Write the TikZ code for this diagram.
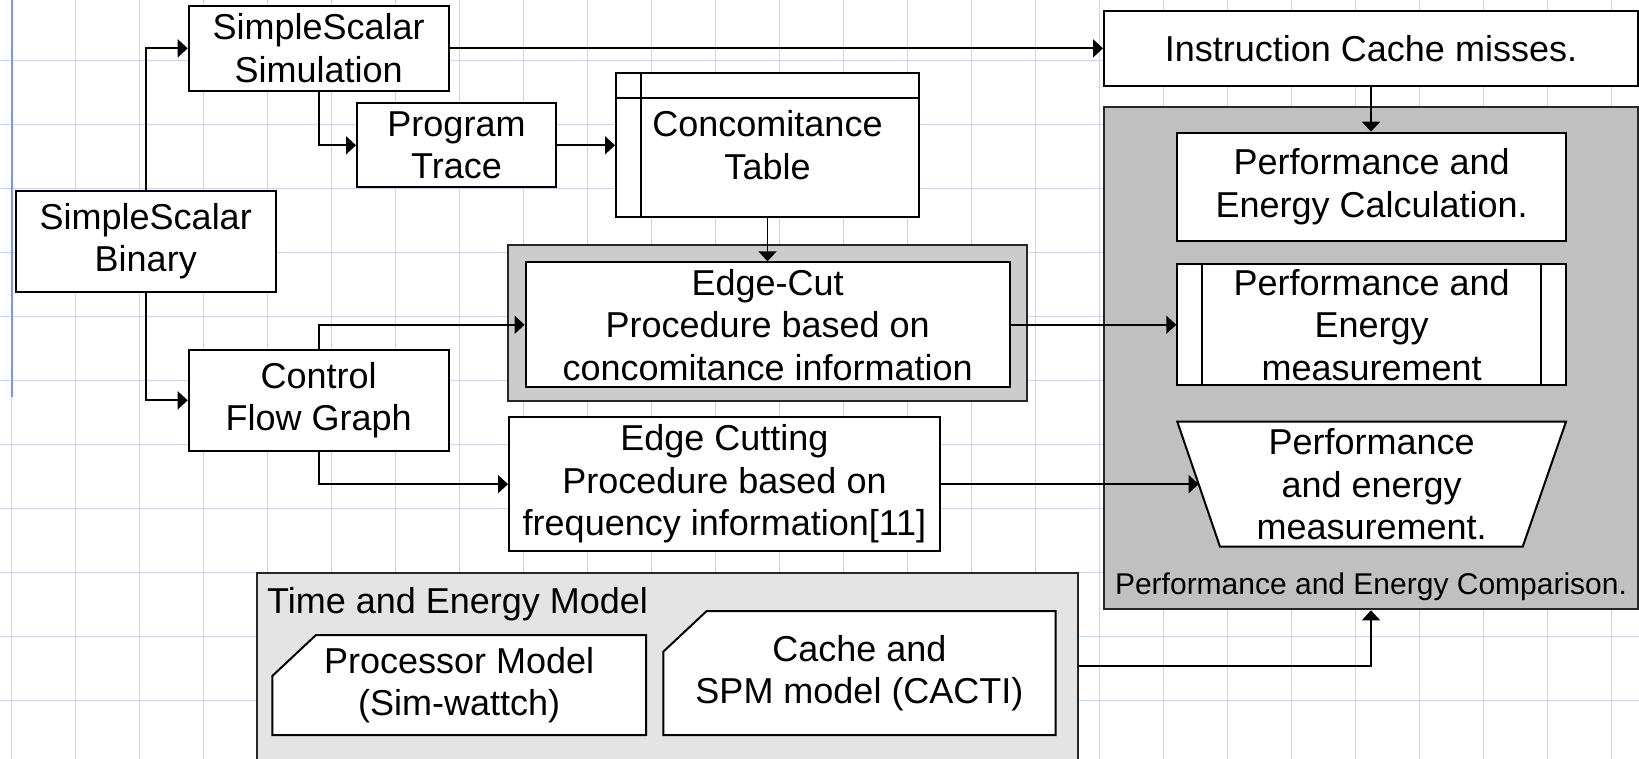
\documentclass[tikz,border=0pt]{standalone}
\usepackage{fontspec}
\setmainfont{Liberation Sans}
\usetikzlibrary{arrows.meta,calc}
\definecolor{gridc}{RGB}{200,211,250}
\definecolor{marginc}{RGB}{120,150,240}
\definecolor{ecgray}{RGB}{204,204,204}
\definecolor{cmpgray}{RGB}{192,192,192}
\definecolor{timegray}{RGB}{228,228,228}
\begin{document}
\begin{tikzpicture}[x=1pt,y=-1pt,
  box/.style={draw=black, line width=2pt, fill=white, inner sep=0pt, align=center, font=\fontsize{36}{42.5}\selectfont},
  txt/.style={inner sep=0pt, align=center, font=\fontsize{36}{42.5}\selectfont},
  frame/.style={draw=black!85, line width=2pt, inner sep=0pt},
  shapeline/.style={draw=black, line width=2pt, fill=white},
  arr/.style={line width=1.8pt, -{Triangle[length=10pt,width=18pt]}},
  gridline/.style={draw=gridc, line width=1.5pt}]
\useasboundingbox (0,0) rectangle (1639,759);
\fill[white] (0,0) rectangle (1639,759);
% grid
\foreach \i in {0,...,25} \draw[gridline] ({11.5+64*\i},0) -- ({11.5+64*\i},759);
\foreach \j in {0,...,10} \draw[gridline] (0,{60.5+64*\j}) -- (1639,{60.5+64*\j});
\draw[marginc, line width=2pt] (11.5,0) -- (11.5,397);

% containers
\node[frame, fill=cmpgray, minimum width=534pt, minimum height=502pt] (cmpbox) at (1371,358.3) {};
\node[inner sep=0pt, anchor=base, font=\fontsize{30}{36}\selectfont] (cmplabel) at (1371,594) {Performance and Energy Comparison.};
\node[frame, fill=ecgray, minimum width=518.6pt, minimum height=155.7pt] (ecouter) at (767.7,322.85) {};
\node[frame, fill=timegray, minimum width=821pt, minimum height=217.3pt] (timebox) at (667.8,681.35) {};
\node[inner sep=0pt, anchor=base west, font=\fontsize{36}{42.5}\selectfont] (timelabel) at (267,613) {Time and Energy Model};

% boxes
\node[box, minimum width=259.8pt, minimum height=84.7pt] (sim) at (318.6,48.35) {SimpleScalar\\Simulation};
\node[box, minimum width=199pt, minimum height=84pt] (trace) at (456.5,145.3) {Program\\Trace};
\node[box, minimum width=259.5pt, minimum height=100.7pt] (bin) at (145.75,241.35) {SimpleScalar\\Binary};
\node[box, minimum width=259.8pt, minimum height=100.7pt] (cfg) at (318.6,400.35) {Control\\Flow Graph};
\node[box, minimum width=303pt, minimum height=143.4pt] (table) at (767.5,145) {Concomitance\\Table};
\draw[line width=2pt] ($(table.north west)+(26.4,0)$) -- ($(table.south west)+(26.4,0)$);
\draw[line width=2pt] ($(table.north west)+(0,25.7)$) -- ($(table.north east)+(0,25.7)$);
\node[box, minimum width=484.2pt, minimum height=125pt] (ecinner) at (767.7,324.8) {Edge-Cut\\Procedure based on\\concomitance information};
\node[box, minimum width=431pt, minimum height=133.7pt] (ecut) at (724.5,484.15) {Edge Cutting\\Procedure based on\\frequency information[11]};
\node[box, minimum width=534pt, minimum height=75pt] (icache) at (1371,48.5) {Instruction Cache misses.};
\node[box, minimum width=388.7pt, minimum height=108.3pt] (calc) at (1371.65,186.85) {Performance and\\Energy Calculation.};
\node[box, minimum width=388.7pt, minimum height=120.7pt] (meas) at (1371.65,324.65) {Performance and\\Energy\\measurement};
\draw[line width=2pt] ($(meas.north west)+(25.4,0)$) -- ($(meas.south west)+(25.4,0)$);
\draw[line width=2pt] ($(meas.north east)+(-26,0)$) -- ($(meas.south east)+(-26,0)$);
\draw[shapeline] (1177.3,421.7) -- (1566,421.7) -- (1522.7,546.7) -- (1220,546.7) -- cycle;
\node[txt] (trap) at (1371.65,484.2) {Performance\\and energy\\measurement.};
\coordinate (trapL) at (1198.65,484.2);
\draw[shapeline] (316,635) -- (646,635) -- (646,735) -- (272.3,735) -- (272.3,676) -- cycle;
\node[txt] (proc) at (459.15,685) {Processor Model\\(Sim-wattch)};
\draw[shapeline] (706.7,611) -- (1055.7,611) -- (1055.7,735) -- (663.3,735) -- (663.3,651.7) -- cycle;
\node[txt] (cache) at (859.5,673) {Cache and\\SPM model (CACTI)};
\coordinate (k1) at (1078.3,666);

% connectors
\draw[arr] (bin.north) |- (sim.west);
\draw[arr] (bin.south) |- (cfg.west);
\draw[arr] (sim.south) |- (trace.west);
\draw[arr] (sim.east) -- (sim.east -| icache.west);
\draw[arr] (trace.east) -- (trace.east -| table.west);
\draw[arr] (table.south) -- (table.south |- ecinner.north);
\draw[arr] (cfg.north) |- (ecinner.west);
\draw[arr] (ecinner.east) -- (ecinner.east -| meas.west);
\draw[arr] (cfg.south) |- (ecut.west);
\draw[arr] (ecut.east) -- (ecut.east -| trapL);
\draw[arr] (icache.south) -- (icache.south |- calc.north);
\draw[arr] (k1) -| (cmpbox.south);
\end{tikzpicture}
\end{document}
